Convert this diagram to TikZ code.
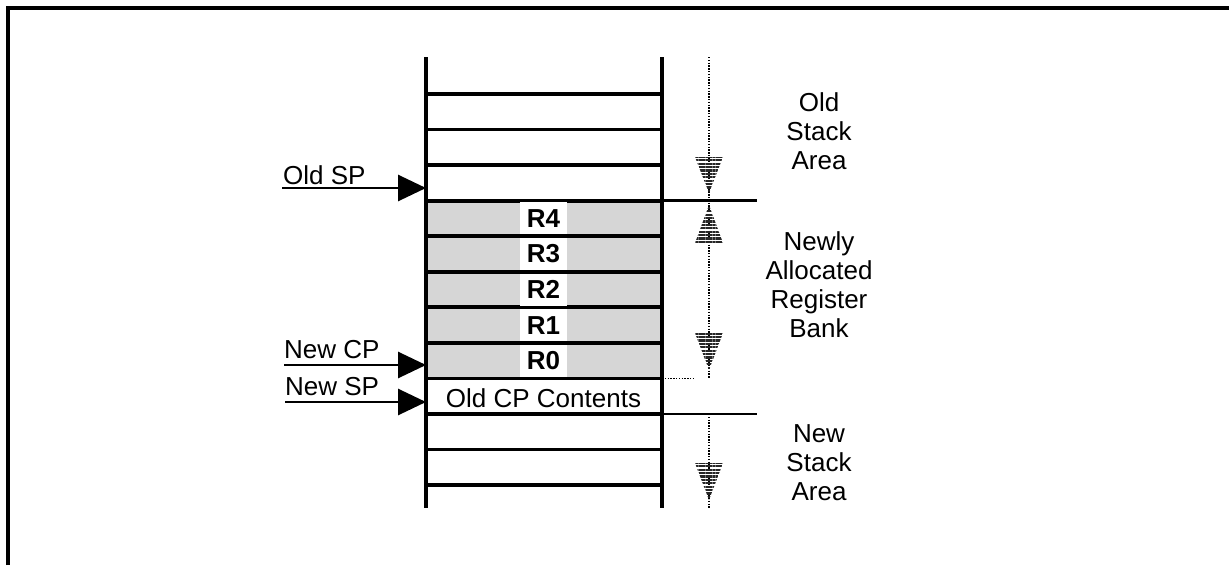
\documentclass[tikz,border=0pt]{standalone}
\usepackage{fontspec}
\setmainfont{Liberation Sans}
\usetikzlibrary{arrows.meta,patterns.meta}
\begin{document}
\begin{tikzpicture}[x=1pt,y=-1pt,
  lbl/.style={font=\fontsize{26}{29}\selectfont, inner sep=0pt},
  rlbl/.style={font=\fontsize{26}{29}\selectfont, inner sep=0pt, align=center},
  regbox/.style={font=\bfseries\fontsize{26}{29}\selectfont, fill=white, inner sep=0pt, minimum width=47pt, minimum height=32pt},
  wall/.style={line width=4pt},
  rowline/.style={line width=3.8pt},
  sepline/.style={line width=2.8pt},
  ptr/.style={line width=2.8pt, -{Triangle[length=28pt,width=26pt]}},
  dotline/.style={line width=1.6pt, dash pattern=on 1.4pt off 1.4pt},
  hatch/.style={pattern={Lines[angle=0,distance=3.4pt,line width=2.2pt]}, pattern color=black!85},
  regfill/.style={fill=black!16},
  frame/.style={line width=3.2pt}]
\useasboundingbox (0,0) rectangle (1229,565);
% frame (top and left edges)
\draw[frame] (8,565) -- (8,8) -- (1229,8);
% shaded register rows
\fill[regfill] (426,200.65) rectangle (662,378.4);
% row lines
\foreach \i in {0,...,11}{
  \pgfmathsetmacro{\yy}{94+35.55*\i}
  \draw[rowline] (426,\yy) -- (662,\yy);
}
% walls
\draw[wall] (426,57) -- (426,508);
\draw[wall] (662,57) -- (662,508);
% register labels
\node[regbox] (r4) at (543.5,218.4) {R4};
\node[regbox] (r3) at (543.5,254.0) {R3};
\node[regbox] (r2) at (543.5,289.5) {R2};
\node[regbox] (r1) at (543.5,325.1) {R1};
\node[regbox] (r0) at (543.5,360.6) {R0};
\node[lbl, anchor=base] (oldcp) at (543.5,407) {Old CP Contents};
% right separators
\draw[sepline] (662,200.65) -- (757,200.65);
\draw[sepline] (662,413.95) -- (757,413.95);
\draw[dotline] (662,378.4) -- (693,378.4);
% vertical dotted dimension line
\coordinate (dTop) at (709,57);
\coordinate (dMid) at (709,378);
\coordinate (dMid2) at (709,414);
\coordinate (dBot) at (709,508);
\draw[dotline] (dTop) -- (dMid);
\draw[dotline] (dMid2) -- (dBot);
% hatched arrowheads
\fill[hatch] (695,157) -- (723,157) -- (709,193) -- cycle;
\fill[hatch] (695,243) -- (723,243) -- (709,205) -- cycle;
\fill[hatch] (695,333) -- (723,333) -- (709,370) -- cycle;
\fill[hatch] (695,463) -- (723,463) -- (709,500) -- cycle;
% right labels
\node[rlbl] (oldarea) at (819,131) {Old\\Stack\\Area};
\node[rlbl] (newarea) at (819,285) {Newly\\Allocated\\Register\\Bank};
\node[rlbl] (newstack) at (819,463) {New\\Stack\\Area};
% pointers
\node[lbl, anchor=base west] (oldsplbl) at (283,184) {Old SP};
\node[lbl, anchor=base west] (newcplbl) at (284,358) {New CP};
\node[lbl, anchor=base west] (newsplbl) at (285,395) {New SP};
\coordinate (oldspS) at (282,188);
\coordinate (oldspE) at (426,188);
\coordinate (newcpS) at (284,365);
\coordinate (newcpE) at (426,365);
\coordinate (newspS) at (285,402);
\coordinate (newspE) at (426,402);
\draw[ptr] (oldspS) -- (oldspE);
\draw[ptr] (newcpS) -- (newcpE);
\draw[ptr] (newspS) -- (newspE);
\end{tikzpicture}
\end{document}
